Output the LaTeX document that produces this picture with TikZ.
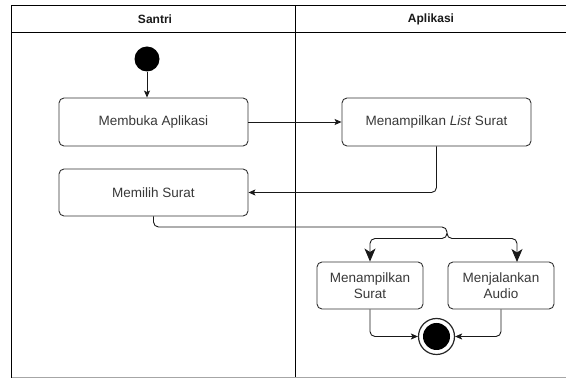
\documentclass[tikz,border=0pt]{standalone}
\usepackage{fontspec}
\setmainfont{Liberation Sans}
\usetikzlibrary{arrows.meta,calc}
\begin{document}
\begin{tikzpicture}[x=1pt,y=-1pt,
  frameline/.style={draw=black, line width=1pt},
  act/.style={draw=black!80, line width=0.9pt, rounded corners=5pt, text=black!78,
    font=\fontsize{13.5}{15.7}\selectfont, align=center, inner sep=0pt},
  lanehead/.style={font=\bfseries\fontsize{12}{14}\selectfont, text=black!90},
  flow/.style={draw=black!90, line width=0.9pt, rounded corners=5pt,
    -{Stealth[length=7pt,width=6pt,inset=1.5pt]}},
  bigflow/.style={draw=black!90, line width=0.9pt, rounded corners=5pt,
    -{Stealth[length=13pt,width=11pt,inset=3.5pt]}},
  startnode/.style={circle, fill=black, minimum size=25pt, inner sep=0pt},
  endnode/.style={circle, draw=black!85, line width=1.2pt, minimum size=36pt, inner sep=0pt}
]
\useasboundingbox (0,0) rectangle (566,379);
% pool frame
\draw[frameline] (11.5,378) -- (11.5,5.5) -- (570,5.5);
\draw[frameline] (11.5,32.5) -- (570,32.5);
\draw[frameline] (295,5.5) -- (295,378);
\draw[draw=black!35, line width=1pt] (11.5,378) -- (570,378);
\node[lanehead] (h1) at (155,19) {Santri};
\node[lanehead] (h2) at (431,19) {Aplikasi};
% nodes
\node[startnode] (start) at (147,59) {};
\node[act, minimum width=189pt, minimum height=48pt] (b1) at (153.5,122) {Membuka Aplikasi};
\node[act, minimum width=189pt, minimum height=48pt] (b2) at (436.5,122) {Menampilkan \textit{List} Surat};
\node[act, minimum width=189pt, minimum height=47pt] (b3) at (153.5,192.5) {Memilih Surat};
\node[act, minimum width=106pt, minimum height=47pt] (b4) at (370,285.5) {Menampilkan\\Surat};
\node[act, minimum width=106pt, minimum height=47pt] (b5) at (501,285.5) {Menjalankan\\Audio};
\node[endnode] (end) at (436.5,336.5) {};
\fill[black] (end.center) circle (13.5);
\coordinate (j1) at (447,227);
\coordinate (jm) at (447,233);
\coordinate (j) at (447,238.5);
\coordinate (a5) at (517,262);
% connectors
\draw[flow] (start) -- (start |- b1.north);
\draw[flow] (b1) -- (b2);
\draw[flow] (b2.south) |- (b3.east);
\draw[draw=black!90, line width=0.9pt, rounded corners=5pt] (b3.south) |- (j1) -- (jm);
\draw[bigflow] (jm) -- (j) -| (b4.north);
\draw[bigflow] (jm) -- (j) -| (a5);
\draw[flow] (b4.south) |- (end.west);
\draw[flow] (b5.south) |- (end.east);
\end{tikzpicture}
\end{document}
